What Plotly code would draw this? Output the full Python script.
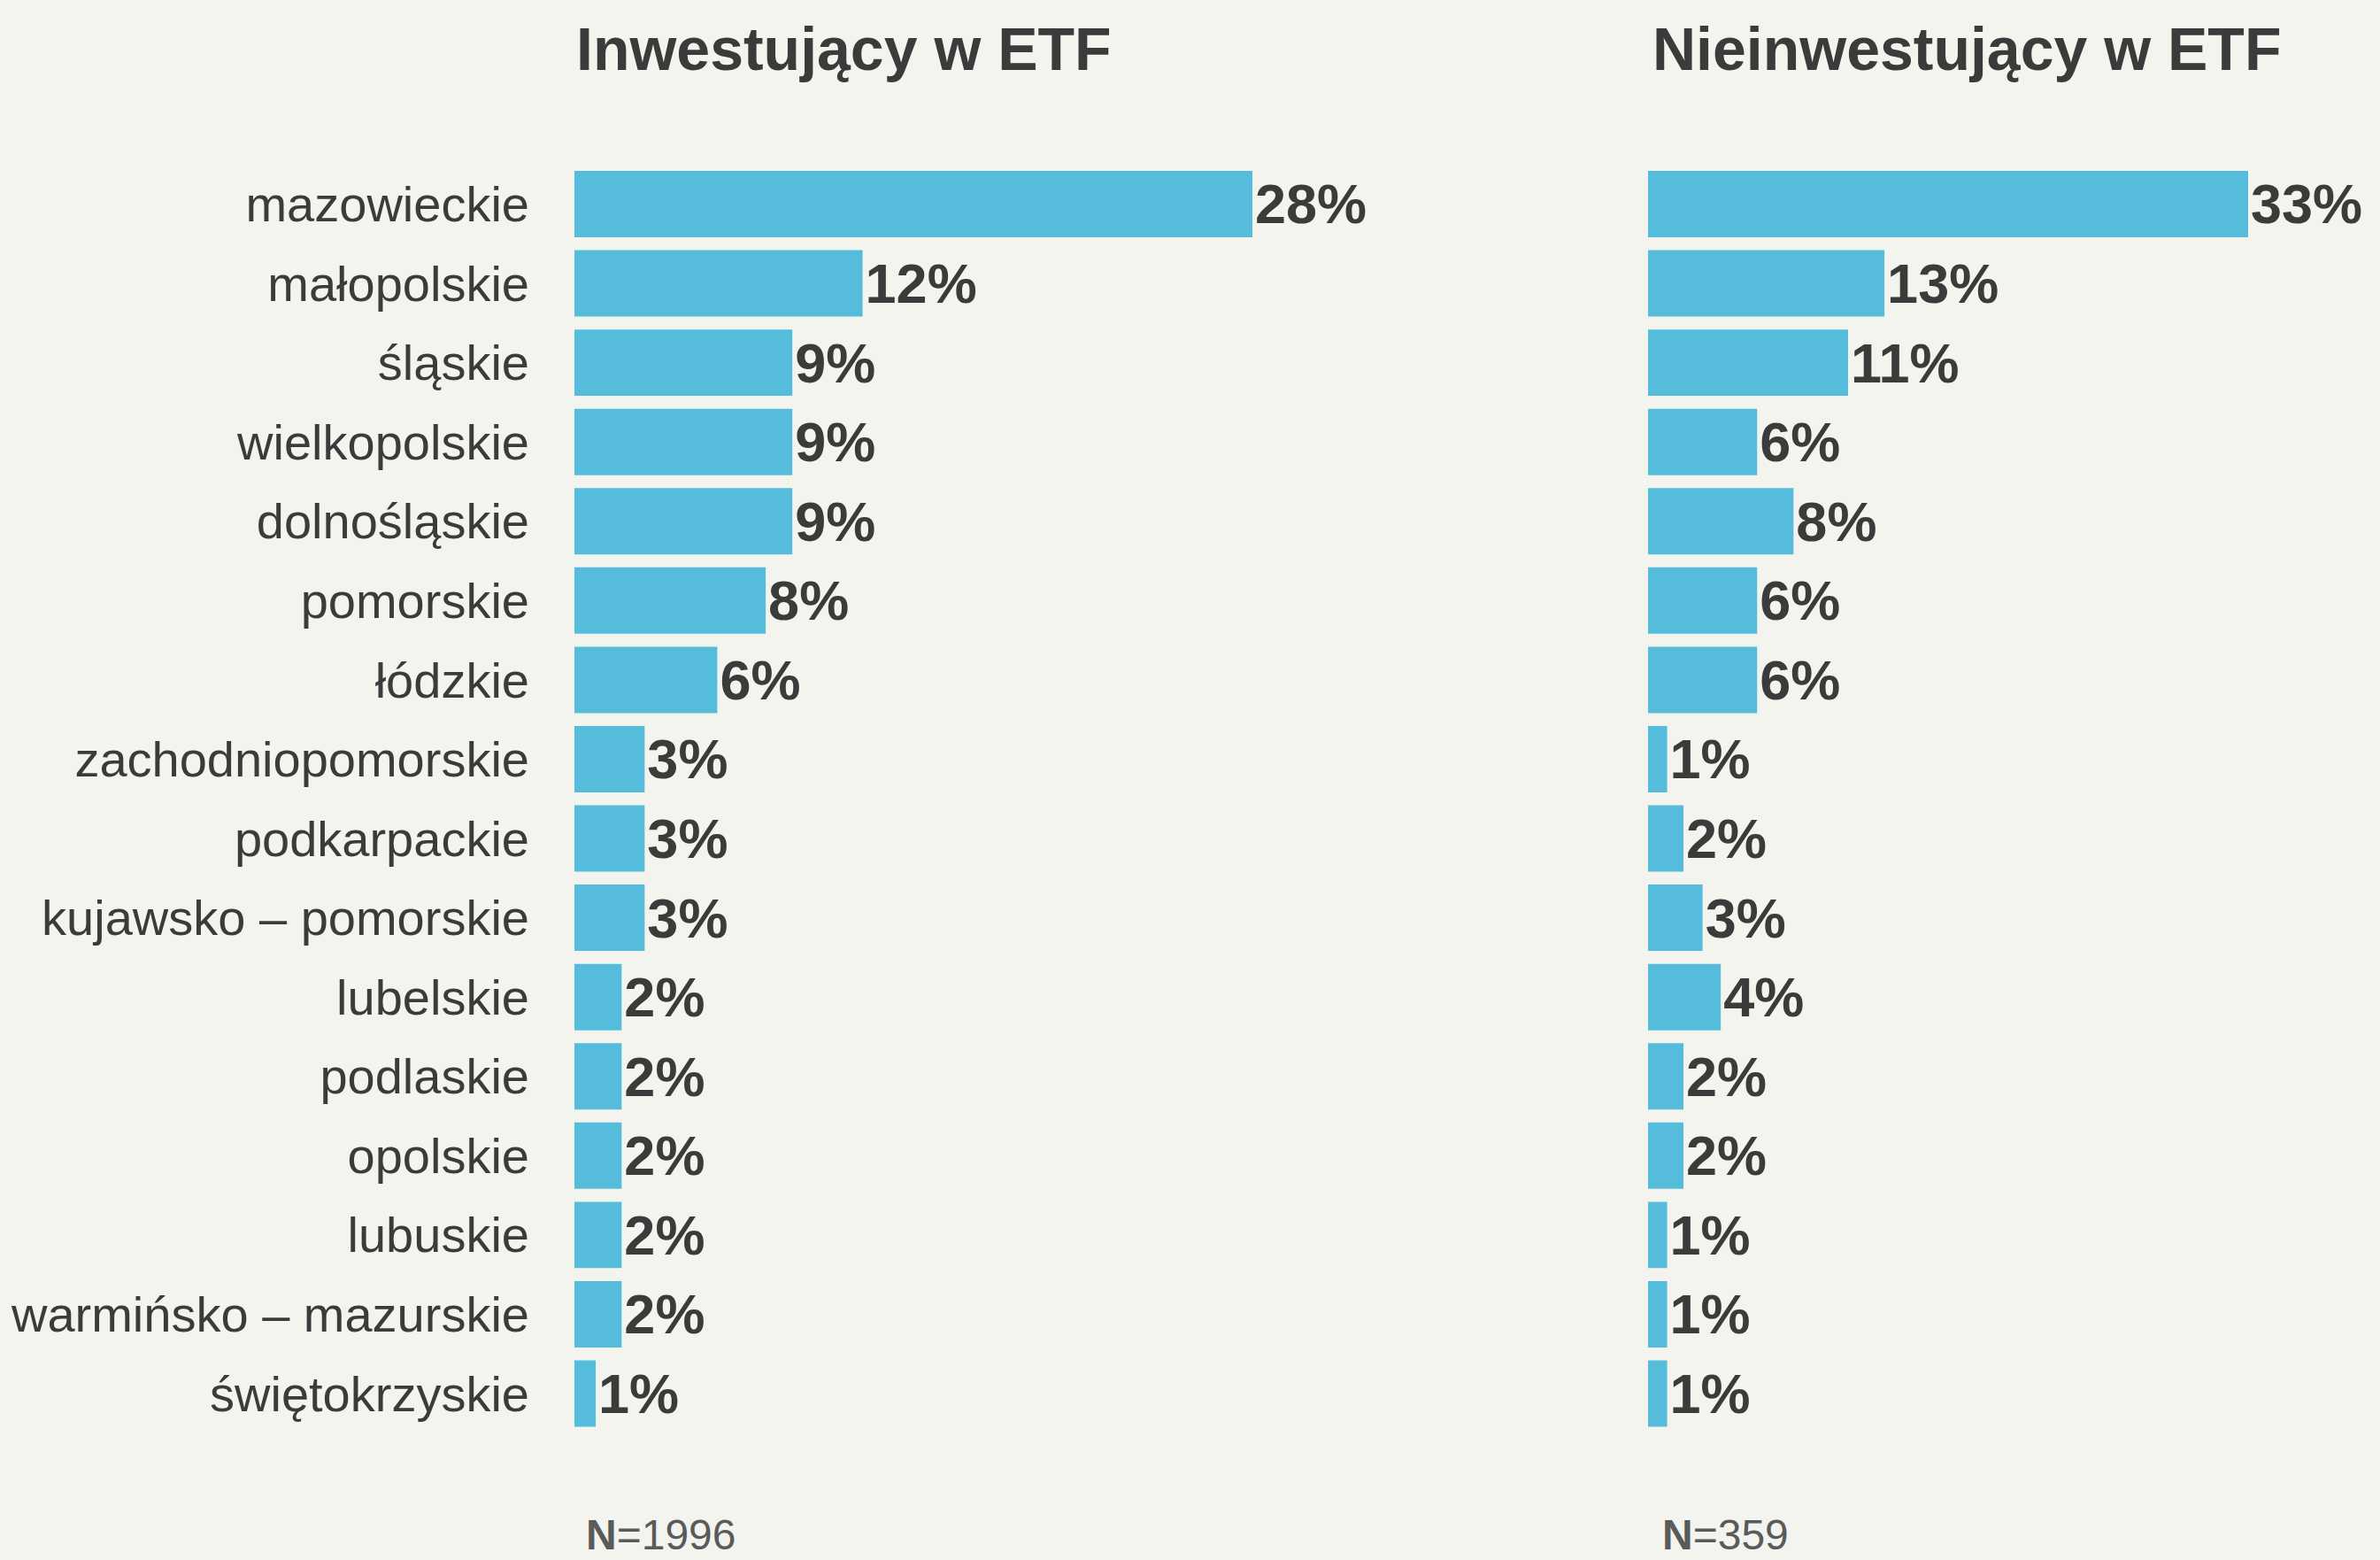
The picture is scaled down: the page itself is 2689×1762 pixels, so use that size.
import plotly.graph_objects as go

regions = ["mazowieckie", "małopolskie", "śląskie", "wielkopolskie", "dolnośląskie",
           "pomorskie", "łódzkie", "zachodniopomorskie", "podkarpackie",
           "kujawsko – pomorskie", "lubelskie", "podlaskie", "opolskie", "lubuskie",
           "warmińsko – mazurskie", "świętokrzyskie"]
investing = [28, 11.9, 9, 9, 9, 7.9, 5.9, 2.9, 2.9, 2.9, 1.95, 1.95, 1.95, 1.95, 1.95, 0.88]
non_investing = [33, 13, 11, 6, 8, 6, 6, 1.05, 1.95, 3, 4, 1.95, 1.95, 1.05, 1.05, 1.05]
titles = ["Inwestujący w ETF", "Nieinwestujący w ETF"]
sample_sizes = ["1996", "359"]

W, H = 2689, 1762
BG = "#f4f4ef"
BAR = "#56bcdc"
TXT = "#3b3b3b"
FONT = "Liberation Sans, Arial, sans-serif"

fig = go.Figure()
fig.add_trace(go.Bar(
    y=regions, x=investing, orientation="h", marker=dict(color=BAR, line=dict(width=0)),
    text=[f"{v:.0f}%" for v in investing], textposition="outside",
    textfont=dict(family=FONT, size=63, color=TXT, weight=700),
    cliponaxis=False, xaxis="x", yaxis="y", showlegend=False, hoverinfo="skip"))
fig.add_trace(go.Bar(
    y=regions, x=non_investing, orientation="h", marker=dict(color=BAR, line=dict(width=0)),
    text=[f"{v:.0f}%" for v in non_investing], textposition="outside",
    textfont=dict(family=FONT, size=63, color=TXT, weight=700),
    cliponaxis=False, xaxis="x2", yaxis="y2", showlegend=False, hoverinfo="skip"))

x0L, x1L = 649, 1640
x0R, x1R = 1862, 2689
pxL = (1415 - 649) / 28.0
pxR = (2540 - 1862) / 33.0
ydom = [(H - 1618.8) / H, (H - 185.7) / H]

fig.update_layout(
    width=W, height=H, margin=dict(l=0, r=0, t=0, b=0),
    paper_bgcolor=BG, plot_bgcolor=BG,
    bargap=0.163,
    font=dict(family=FONT, color=TXT),
    xaxis=dict(domain=[x0L / W, x1L / W], range=[0, (x1L - x0L) / pxL], visible=False, fixedrange=True),
    xaxis2=dict(domain=[x0R / W, x1R / W], range=[0, (x1R - x0R) / pxR], visible=False, fixedrange=True),
    yaxis=dict(domain=ydom, anchor="x", autorange="reversed", showgrid=False, zeroline=False,
               showline=False, ticks="", ticklabelstandoff=50,
               tickfont=dict(family=FONT, size=56, color=TXT)),
    yaxis2=dict(domain=ydom, anchor="x2", autorange="reversed", showgrid=False, zeroline=False,
                showline=False, showticklabels=False, ticks=""),
)

title_x = [649, 1865]
n_x = [660, 1876]
for i in range(2):
    fig.add_annotation(text=titles[i], xref="paper", yref="paper", x=title_x[i] / W,
                       y=1 - 55 / H, xanchor="left", yanchor="middle", showarrow=False,
                       font=dict(family=FONT, size=68, color=TXT, weight=700))
    fig.add_annotation(text=f"<b>N</b>={sample_sizes[i]}", xref="paper", yref="paper",
                       x=n_x[i] / W, y=0, xanchor="left", yanchor="bottom",
                       showarrow=False, font=dict(family=FONT, size=48, color="#5a5a5a"))

fig.write_html(
    "out.html",
    config={"displayModeBar": False},
    post_script="document.body.style.margin='0';document.body.style.padding='0';"
                "document.body.style.overflow='hidden';document.body.style.background='#f4f4ef';",
)
